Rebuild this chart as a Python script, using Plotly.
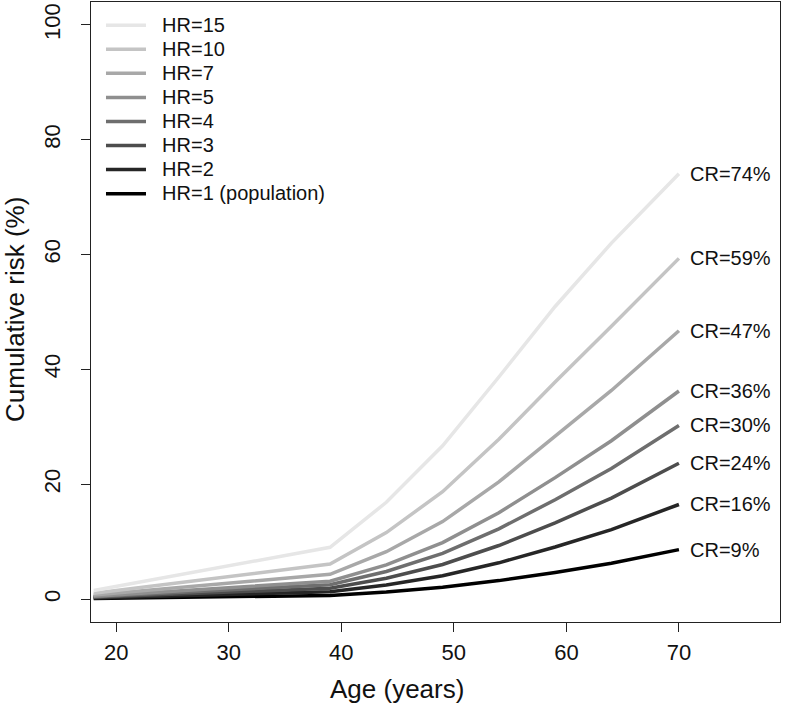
import plotly.graph_objects as go

ages = [18, 39, 44, 49, 54, 59, 64, 70]

hr_labels = ["HR=1 (population)", "HR=2", "HR=3", "HR=4", "HR=5", "HR=7", "HR=10", "HR=15"]

risk_hr1 = [0.10, 0.63, 1.22, 2.05, 3.21, 4.64, 6.25, 8.61]
risk_hr2 = [0.20, 1.25, 2.43, 4.06, 6.31, 9.06, 12.10, 16.47]
risk_hr3 = [0.30, 1.87, 3.62, 6.02, 9.32, 13.28, 17.59, 23.66]
risk_hr4 = [0.40, 2.49, 4.80, 7.95, 12.23, 17.30, 22.74, 30.23]
risk_hr5 = [0.50, 3.10, 5.96, 9.83, 15.04, 21.15, 27.57, 36.24]
risk_hr7 = [0.70, 4.31, 8.25, 13.49, 20.40, 28.28, 36.33, 46.74]
risk_hr10 = [1.00, 6.11, 11.57, 18.70, 27.82, 37.81, 47.53, 59.34]
risk_hr15 = [1.49, 9.02, 16.85, 26.69, 38.68, 50.96, 62.00, 74.08]

series = [risk_hr1, risk_hr2, risk_hr3, risk_hr4, risk_hr5, risk_hr7, risk_hr10, risk_hr15]
colors = ["#000000", "#262626", "#4d4d4d", "#6e6e6e", "#8f8f8f", "#a8a8a8", "#c4c4c4", "#e6e6e6"]

x_ticks = [20, 30, 40, 50, 60, 70]
y_ticks = [0, 20, 40, 60, 80, 100]

FONT = "Liberation Sans, Arial, Helvetica, sans-serif"

fig = go.Figure()
for lab, vals, col in zip(hr_labels, series, colors):
    fig.add_trace(go.Scatter(
        x=ages, y=vals, mode="lines",
        name=f'<span style="font-size:20px">&nbsp;&nbsp;{lab}</span>',
        line=dict(color=col, width=3.5),
    ))

annotations = []
for vals in series:
    annotations.append(dict(
        x=ages[-1], y=vals[-1], xref="x", yref="y",
        text=f"CR={round(vals[-1])}%", showarrow=False,
        xanchor="left", yanchor="middle", xshift=9,
        font=dict(family=FONT, size=20, color="#111"),
    ))

W, H = 786, 708
L, R, T, B = 91, 6, 2, 86
pw, ph = W - L - R, H - T - B

# axis titles
annotations.append(dict(
    text="Age (years)", showarrow=False, xref="paper", yref="paper",
    x=(397 - L) / pw, y=-(689 - (T + ph)) / ph, xanchor="center", yanchor="middle",
    font=dict(family=FONT, size=26, color="#111"),
))
annotations.append(dict(
    text="Cumulative risk (%)", showarrow=False, xref="paper", yref="paper",
    x=-(L - 15) / pw, y=1 - (310 - T) / ph, xanchor="center", yanchor="middle",
    textangle=-90,
    font=dict(family=FONT, size=26, color="#111"),
))

fig.update_layout(
    width=W, height=H,
    margin=dict(l=L, r=R, t=T, b=B, autoexpand=False),
    paper_bgcolor="white", plot_bgcolor="white",
    font=dict(family=FONT, size=20, color="#111"),
    showlegend=True,
    legend=dict(
        x=0.0145, y=0.99, xanchor="left", yanchor="top",
        traceorder="reversed", bgcolor="rgba(0,0,0,0)",
        font=dict(family=FONT, size=16.2, color="#111"),
        itemwidth=40, tracegroupgap=0,
    ),
    annotations=annotations,
)
fig.update_xaxes(
    range=[17.76, 78.98], tickvals=x_ticks, ticktext=[str(v) for v in x_ticks],
    ticks="outside", ticklen=9, tickwidth=1, tickcolor="#222",
    showline=True, linecolor="#222", linewidth=1, mirror=True,
    showgrid=False, zeroline=False, automargin=False,
    ticklabelstandoff=2,
    tickfont=dict(family=FONT, size=22, color="#111"),
)
fig.update_yaxes(
    range=[-4, 104], tickvals=y_ticks, ticktext=[str(v) for v in y_ticks],
    ticks="outside", ticklen=9, tickwidth=1, tickcolor="#222",
    showline=True, linecolor="#222", linewidth=1, mirror=True,
    showgrid=False, zeroline=False, tickangle=-90, automargin=False,
    ticklabelstandoff=12,
    tickfont=dict(family=FONT, size=22, color="#111"),
)

fig.write_html(
    "out.html",
    config={"displayModeBar": False},
    post_script="document.body.style.margin='0';document.body.style.padding='0';document.body.style.overflow='hidden';",
)
